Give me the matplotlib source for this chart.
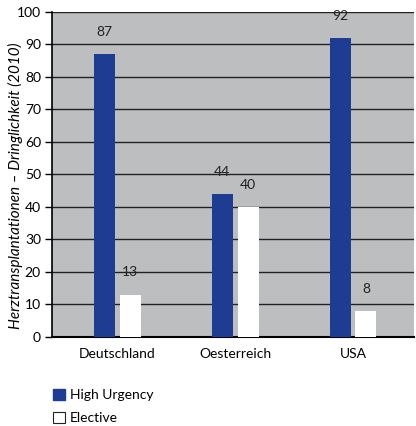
import numpy as np
import matplotlib
matplotlib.use("Agg")
import matplotlib.pyplot as plt
from matplotlib.patches import Patch

# Data
countries = ['Deutschland', 'Oesterreich', 'USA']
high_urgency = [87, 44, 92]
elective = [13, 40, 8]
series_names = ['High Urgency', 'Elective']

BLUE = '#1e3c92'
GRAY = '#bdbec0'

plt.rcParams['font.family'] = ['Lato', 'DejaVu Sans']

fig = plt.figure(figsize=(4.16, 4.26), dpi=100)
ax = fig.add_axes([0.125, 0.209, 0.870, 0.763])
ax.set_facecolor(GRAY)

x = np.arange(len(countries))
w = 0.178
off = 0.11
b1 = ax.bar(x - off, high_urgency, w, color=BLUE, zorder=3)
b2 = ax.bar(x + off, elective, w, color='white', zorder=3)

# value labels above bars
for bars, vals in ((b1, high_urgency), (b2, elective)):
    for rect, v in zip(bars, vals):
        ax.text(rect.get_x() + rect.get_width() / 2, v + 5, str(v),
                ha='center', va='bottom', fontsize=10, color='#222222')

ax.set_ylim(0, 100)
ax.set_xlim(-0.555, 2.517)
ax.set_yticks(range(0, 101, 10))
ax.yaxis.grid(True, color='#222222', linewidth=1.0, zorder=1)
ax.set_axisbelow(True)

ax.set_xticks(x)
ax.set_xticklabels(countries, fontsize=10)
ax.tick_params(axis='x', length=0, pad=8)
ax.tick_params(axis='y', length=5, width=1, labelsize=10, direction='out', pad=3)

for s in ('top', 'right'):
    ax.spines[s].set_visible(False)
ax.spines['left'].set_color('black')
ax.spines['left'].set_linewidth(1.2)
ax.spines['bottom'].set_color('black')
ax.spines['bottom'].set_linewidth(1.5)

ax.set_ylabel('Herztransplantationen – Dringlichkeit (2010)', fontsize=11,
              style='italic')
ax.yaxis.set_label_coords(-0.08, 0.465)

handles = [Patch(facecolor=BLUE, edgecolor=BLUE),
           Patch(facecolor='white', edgecolor='#222222', linewidth=0.8)]
fig.legend(handles, series_names, loc='upper left', bbox_to_anchor=(0.115, 0.1),
           frameon=False, fontsize=10, handlelength=0.8, handleheight=0.8,
           handletextpad=0.4, labelspacing=0.8, borderaxespad=0)

fig.savefig('out.png', dpi=100)
